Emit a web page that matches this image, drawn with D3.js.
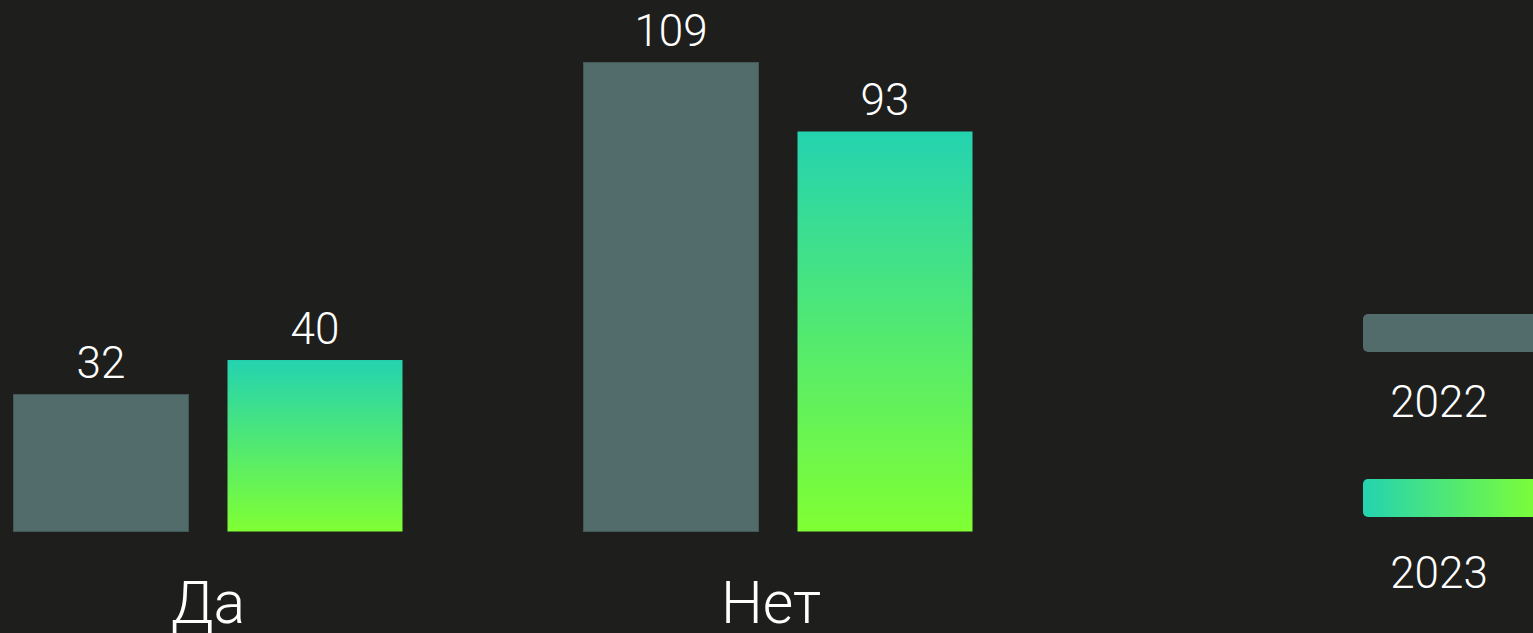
<!DOCTYPE html>
<html>
<head>
<meta charset="utf-8">
<script src="https://cdn.jsdelivr.net/npm/d3@7"></script>
<style>
  html, body { margin: 0; padding: 0; background: #1e1e1c; overflow: hidden; }
  svg { display: block; }
</style>
</head>
<body>
<svg></svg>
<script>
const categories = ["Да", "Нет"];
const seriesNames = ["2022", "2023"];
const values2022 = [32, 109];
const values2023 = [40, 93];

const svgWidth = 1533, svgHeight = 633;
const font = "Roboto, 'Noto Sans', sans-serif";

const data = categories.map((c, i) => ({
  cat: c,
  vals: [
    { key: seriesNames[0], value: values2022[i] },
    { key: seriesNames[1], value: values2023[i] }
  ]
}));

const svg = d3.select("svg")
  .attr("width", svgWidth)
  .attr("height", svgHeight);

svg.append("rect")
  .attr("width", svgWidth)
  .attr("height", svgHeight)
  .attr("fill", "#1e1e1c");

const defs = svg.append("defs");
const vGrad = defs.append("linearGradient")
  .attr("id", "grad-v")
  .attr("x1", 0).attr("y1", 0).attr("x2", 0).attr("y2", 1);
vGrad.append("stop").attr("offset", "0%").attr("stop-color", "#24d3b0");
vGrad.append("stop").attr("offset", "100%").attr("stop-color", "#80ff33");

const hGrad = defs.append("linearGradient")
  .attr("id", "grad-h")
  .attr("x1", 0).attr("y1", 0).attr("x2", 1).attr("y2", 0);
hGrad.append("stop").attr("offset", "0%").attr("stop-color", "#24d3b0");
hGrad.append("stop").attr("offset", "100%").attr("stop-color", "#80ff33");

const fills = { "2022": "#526b6b", "2023": "url(#grad-v)" };
const strokes = { "2022": "#445858", "2023": "none" };
const legendFills = { "2022": "#526b6b", "2023": "url(#grad-h)" };

const x0 = d3.scaleBand()
  .domain(categories)
  .range([13, 973])
  .paddingInner(0.3158)
  .paddingOuter(0);

const x1 = d3.scaleBand()
  .domain(seriesNames)
  .range([0, x0.bandwidth()])
  .paddingInner(0.1776)
  .paddingOuter(0);

const yMax = d3.max([...values2022, ...values2023]);
const y = d3.scaleLinear()
  .domain([0, yMax])
  .range([532, 62]);

const groups = svg.selectAll("g.group").data(data)
  .enter().append("g")
    .attr("class", "group")
    .attr("transform", d => `translate(${x0(d.cat)},0)`);

groups.selectAll("rect").data(d => d.vals)
  .enter().append("rect")
    .attr("x", d => x1(d.key) + 0.5)
    .attr("y", d => y(d.value) + 0.5)
    .attr("width", x1.bandwidth() - 1)
    .attr("height", d => y(0) - y(d.value) - 1)
    .attr("fill", d => fills[d.key])
    .attr("stroke", d => strokes[d.key])
    .attr("stroke-width", 1);

groups.selectAll("text.value").data(d => d.vals)
  .enter().append("text")
    .attr("class", "value")
    .attr("x", d => x1(d.key) + x1.bandwidth() / 2)
    .attr("y", d => y(d.value) - 16)
    .attr("text-anchor", "middle")
    .attr("fill", "#ffffff")
    .attr("font-family", font)
    .attr("font-weight", 300)
    .attr("font-size", 44)
    .text(d => d.value);

svg.selectAll("text.cat").data(categories)
  .enter().append("text")
    .attr("class", "cat")
    .attr("x", (d, i) => x0(d) + x0.bandwidth() / 2 - (i ? 7 : 0))
    .attr("y", 623)
    .attr("text-anchor", "middle")
    .attr("fill", "#ffffff")
    .attr("font-family", font)
    .attr("font-weight", 300)
    .attr("font-size", 59)
    .text(d => d);

// legend
const legendY = d3.scalePoint()
  .domain(seriesNames)
  .range([314, 479]);
const legendTextY = d3.scalePoint()
  .domain(seriesNames)
  .range([417, 588]);

const legend = svg.selectAll("g.legend").data(seriesNames)
  .enter().append("g")
    .attr("class", "legend");

legend.append("rect")
  .attr("x", 1363)
  .attr("y", d => legendY(d))
  .attr("width", 180)
  .attr("height", 38)
  .attr("rx", 5)
  .attr("fill", d => legendFills[d]);

legend.append("text")
  .attr("x", 1439)
  .attr("y", d => legendTextY(d))
  .attr("text-anchor", "middle")
  .attr("fill", "#ffffff")
  .attr("font-family", font)
  .attr("font-weight", 300)
  .attr("font-size", 44)
  .text(d => d);
</script>
</body>
</html>
